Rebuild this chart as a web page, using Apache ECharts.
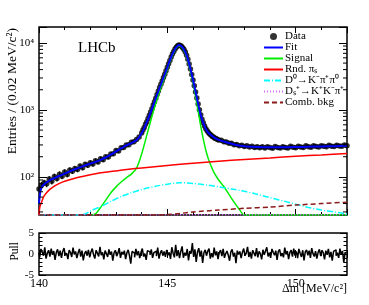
<!DOCTYPE html>
<html><head><meta charset="utf-8">
<script src="https://cdn.jsdelivr.net/npm/echarts@6/dist/echarts.min.js"></script>
<style>html,body{margin:0;padding:0;background:#fff}#c{width:369px;height:305px}</style>
</head><body><div id="c"></div><script>
// ---------- data ----------
const dataPoints = [
[140.0,66],[140.1,75],[140.2,82],[140.3,79],[140.4,93],[140.5,86],[140.6,101],[140.7,95],[140.8,110],[140.9,102],
[141.0,118],[141.1,109],[141.2,127],[141.3,122],[141.4,133],[141.5,129],[141.6,145],[141.7,137],[141.8,155],[141.9,149],
[142.0,163],[142.1,156],[142.2,174],[142.3,167],[142.4,186],[142.5,181],[142.6,200],[142.7,198],[142.8,219],[142.9,221],
[143.0,247],[143.1,244],[143.2,272],[143.3,276],[143.4,299],[143.5,302],[143.6,328],[143.7,334],[143.8,362],[143.9,395],
[144.00,452],[144.05,500],[144.10,548],[144.15,612],[144.20,668],[144.25,745],[144.30,830],[144.35,932],[144.40,1045],[144.45,1180],
[144.50,1320],[144.55,1500],[144.60,1700],[144.65,1920],[144.70,2170],[144.75,2420],[144.80,2710],[144.85,3060],[144.90,3420],[144.95,3850],
[145.00,4320],[145.05,4880],[145.10,5480],[145.15,6170],[145.20,6810],[145.25,7480],[145.30,8100],[145.35,8650],[145.40,9080],[145.45,9310],
[145.50,9190],[145.55,8910],[145.60,8480],[145.65,7950],[145.70,7310],[145.75,6530],[145.80,5690],[145.85,4870],[145.90,4090],[145.95,3390],
[146.00,2790],[146.05,2300],[146.10,1860],[146.15,1510],[146.20,1230],[146.25,1010],[146.30,845],[146.35,725],[146.40,642],[146.45,575],
[146.50,525],[146.55,488],[146.60,462],[146.65,437],[146.70,422],[146.75,401],[146.80,396],[146.85,379],[146.90,374],[146.95,362],
[147.0,357],[147.1,352],[147.2,335],[147.3,332],[147.4,317],[147.5,318],[147.6,302],[147.7,306],[147.8,291],[147.9,297],
[148.0,285],[148.1,291],[148.2,279],[148.3,286],[148.4,275],[148.5,283],[148.6,272],[148.7,282],[148.8,270],[148.9,281],
[149.0,274],[149.1,268],[149.2,284],[149.3,276],[149.4,271],[149.5,283],[149.6,275],[149.7,270],[149.8,286],[149.9,278],
[150.0,273],[150.1,288],[150.2,280],[150.3,275],[150.4,291],[150.5,282],[150.6,277],[150.7,293],[150.8,284],[150.9,279],
[151.0,292],[151.1,286],[151.2,281],[151.3,296],[151.4,287],[151.5,284],[151.6,298],[151.7,289],[151.8,286],[151.9,300],[152.0,292]
];
const fitCurve = [
[140.0,40],[140.05,60],[140.1,70],[140.2,78],[140.4,88],[140.6,96],[140.8,104],[141.0,112],[141.2,121],[141.4,130],
[141.6,139],[141.8,148],[142.0,158],[142.2,168],[142.4,180],[142.6,195],[142.8,215],[143.0,240],[143.2,266],[143.4,295],
[143.6,320],[143.8,355],[144.0,450],[144.2,660],[144.4,1040],[144.6,1690],[144.8,2700],[145.0,4300],[145.1,5500],[145.2,6800],
[145.3,8100],[145.4,9100],[145.45,9300],[145.5,9200],[145.6,8500],[145.7,7300],[145.8,5700],[145.9,4100],[146.0,2800],[146.1,1850],
[146.2,1220],[146.3,840],[146.4,640],[146.5,520],[146.6,457],[146.8,393],[147.0,358],[147.2,338],[147.4,320],[147.6,305],
[147.8,295],[148.0,288],[148.5,280],[149.0,277],[149.5,277],[150.0,279],[150.5,282],[151.0,285],[151.5,288],[152.0,291]
];
const signalCurve = [
[142.0,27],[142.2,28],[142.4,35],[142.6,45],[142.8,58],[143.0,71],[143.2,84],[143.4,97],[143.6,110],[143.8,135],
[144.0,220],[144.2,420],[144.4,800],[144.6,1450],[144.8,2450],[145.0,4050],[145.1,5250],[145.2,6550],[145.3,7850],[145.4,8850],
[145.45,9050],[145.5,8950],[145.6,8250],[145.7,7050],[145.8,5450],[145.9,3850],[146.0,2550],[146.1,1600],[146.2,960],[146.3,580],
[146.4,370],[146.5,250],[146.6,185],[146.8,120],[147.0,90],[147.2,72],[147.4,55],[147.6,42],[147.8,33],[148.0,27],[152.0,27]
];
const rndPiCurve = [
[140.0,27],[140.03,35],[140.1,42],[140.2,52],[140.4,64],[140.6,73],[140.8,80],[141.0,86],[141.5,98],[142.0,108],
[142.5,116],[143.0,123],[143.5,130],[144.0,136],[145.0,148],[146.0,160],[147.0,172],[148.0,182],[149.0,192],[150.0,203],
[151.0,213],[152.0,224]
];
const d0Curve = [
[140.0,27],[141.6,27],[141.8,28],[142.0,31],[142.4,36],[142.8,43],[143.2,51],[143.6,58],[144.0,65],[144.5,72],
[145.0,78],[145.5,82],[146.0,80],[146.5,76],[147.0,71],[147.5,66],[148.0,61],[148.5,55],[149.0,49],[149.5,44],
[150.0,39],[150.5,35],[151.0,32],[151.5,30],[152.0,28]
];
const dsCurve = [
[140.0,27.3],[144.0,27.3],[148.0,27.3],[152.0,27.3]
];
const combCurve = [
[140.0,27],[144.6,27],[145.0,27.5],[145.5,28.5],[146.0,30],[147.0,32],[148.0,34],[149.0,35.5],[150.0,38],[151.0,40],[152.0,42]
];
const pullStart = 140.0, pullStep = 0.05;
const pullValues = [
0.3,-0.8,1.2,0.5,-0.4,1.6,-1.1,0.2,0.9,-0.6,1.3,-0.2,0.7,-1.4,0.4,1.1,-0.5,0.8,-0.9,0.6,
1.4,-0.3,0.2,-1.2,0.9,0.4,-0.7,1.5,-0.1,0.6,-1.0,0.3,1.2,-0.6,0.8,-1.5,0.1,0.7,-0.4,1.0,
-0.8,0.5,1.3,-0.2,-1.1,0.9,0.2,-0.6,1.7,-0.3,0.4,-1.3,0.8,0.1,-0.7,1.1,-0.2,0.6,-1.6,0.3,
0.9,-0.5,0.2,1.4,-0.9,0.5,-0.1,0.8,-1.2,0.3,1.0,-0.4,-2.3,0.6,0.2,-0.8,1.2,-0.3,0.7,-1.0,
0.4,1.3,-0.6,0.1,-1.4,0.8,0.5,-0.2,1.1,-0.9,0.3,0.7,-0.5,1.5,-1.1,0.2,0.9,-0.4,0.6,-0.7,
1.0,-0.3,0.4,-1.2,1.6,0.2,-0.8,2.2,-0.5,0.9,-1.0,0.6,1.8,-0.9,0.3,-0.4,1.2,-1.5,0.7,0.1,
2.6,-0.7,1.1,-1.9,0.5,1.4,-0.6,0.8,-2.1,0.3,1.0,-0.4,0.7,1.3,-1.1,0.2,-0.8,1.5,-0.3,0.6,
-1.2,0.4,0.9,-0.5,1.2,-0.9,0.1,0.7,-0.3,-1.6,0.5,1.1,-0.6,0.3,-2.2,0.8,-0.1,0.6,-1.0,0.4,
1.3,-0.4,0.2,1.7,-0.7,0.5,-1.1,0.9,0.2,-0.5,1.4,-0.8,0.6,0.1,-1.3,1.0,-0.2,0.7,1.6,-0.6,
0.3,-0.9,1.2,0.4,-0.3,0.8,-1.4,0.6,1.1,-0.5,0.2,-0.8,1.5,-0.1,0.7,-1.2,0.4,0.9,-0.6,1.3,
-0.4,0.6,-1.0,1.2,0.2,-0.7,0.9,-1.5,0.5,1.0,-0.3,0.8,-0.9,1.4,0.1,-0.6,0.7,-1.1,0.4,1.1,
-0.5,0.9,0.3,-1.3,0.8,-0.2,1.2,-0.8,0.5,-1.6,0.6,1.0,-0.4,0.3,-0.9,1.3,-0.2,0.7,-2.0,0.4,
0.2
];
const xTicks = [140, 145, 150];
const yLogLabels = [100, 1000, 10000];
const yLogMinor = [30,40,50,60,70,80,90,200,300,400,500,600,700,800,900,2000,3000,4000,5000,6000,7000,8000,9000];
const legendNames = ['Data','Fit','Signal','Rnd. πₛ','D⁰→K⁻π⁺π⁰','Dₛ⁺→K⁺K⁻π⁺','Comb. bkg'];

// ---------- chart ----------
const FONT = 'Liberation Serif';
const X_MIN = 140, X_MAX = 152, Y_MIN = 27, Y_MAX = 17300;
const sup = {2:'²',3:'³',4:'⁴'};
const pullData = pullValues.map((v,i)=>[+(pullStart + i*pullStep).toFixed(2), v]);

const chart = echarts.init(document.getElementById('c'), null, {renderer:'canvas'});
const tickStyle = {color:'#000', width:1};
function xAx(grid, pos, showLabel, major, minor){
  return {gridIndex:grid, type:'value', position:pos, min:X_MIN, max:X_MAX, interval:5,
    axisLine:{show:false}, splitLine:{show:false},
    axisTick:{show:true, inside:true, length:major, lineStyle:tickStyle},
    minorTick:{show:true, splitNumber:5, length:minor, lineStyle:tickStyle},
    axisLabel:{show:showLabel, color:'#000', fontFamily:FONT, fontSize:12, margin:3,
      formatter: v => xTicks.includes(v) ? String(v) : ''}};
}
function yLog(pos, showLabel){
  return {gridIndex:0, type:'log', logBase:10, position:pos, min:Y_MIN, max:Y_MAX,
    axisLine:{show:false}, splitLine:{show:false},
    axisTick:{show:true, inside:true, length:8, lineStyle:tickStyle},
    axisLabel:{show:showLabel, color:'#000', fontFamily:FONT, fontSize:11, margin:5,
      formatter: v => { const e = Math.round(Math.log10(v)); return yLogLabels.some(t=>Math.abs(t-v)<1e-6*t) ? '10'+sup[e] : ''; }}};
}
function yPull(pos, showLabel){
  return {gridIndex:1, type:'value', position:pos, min:-5, max:5, interval:5,
    axisLine:{show:false}, splitLine:{show:false},
    axisTick:{show:true, inside:true, length:7, lineStyle:tickStyle},
    minorTick:{show:true, splitNumber:5, length:3.5, lineStyle:tickStyle},
    axisLabel:{show:showLabel, color:'#000', fontFamily:FONT, fontSize:11, margin:5}};
}
function curve(name, data, color, width, type, z){
  return {name, type:'line', xAxisIndex:0, yAxisIndex:0, data, symbol:'none', smooth:0.25,
    lineStyle:{color, width, type}, itemStyle:{color}, clip:true, z, animation:false};
}

const option = {
  animation:false,
  grid:[
    {left:39, top:27, width:308, height:188, show:true, borderColor:'#000', borderWidth:1.5, backgroundColor:'transparent'},
    {left:39, top:233, width:308, height:42, show:true, borderColor:'#000', borderWidth:1.5, backgroundColor:'transparent'}
  ],
  xAxis:[ xAx(0,'bottom',false,6,3), xAx(0,'top',false,6,3), xAx(1,'bottom',true,4,2), xAx(1,'top',false,4,2) ],
  yAxis:[ yLog('left',true), yLog('right',false), yPull('left',true), yPull('right',false) ],
  legend:{
    data: legendNames.map((n,i)=> i===0 ? {name:n, icon:'circle', itemStyle:{color:'#000'}} : {name:n, itemStyle:{opacity:0}}),
    orient:'vertical', left:263, top:31, padding:0, itemWidth:19, itemHeight:7, itemGap:0,
    textStyle:{fontFamily:FONT, fontSize:11, color:'#000', lineHeight:10, padding:[0,0,0,-3]},
    selectedMode:false
  },
  graphic:[
    {type:'text', left:78, top:41, style:{text:'LHCb', fontFamily:FONT, fontSize:15, fill:'#000'}},
    {type:'text', x:12, y:28, rotation:Math.PI/2, style:{text:'Entries / (0.02 MeV/c²)', fontFamily:FONT, fontSize:13.5, fill:'#000', align:'right', verticalAlign:'middle'}},
    {type:'text', x:15, y:242, rotation:Math.PI/2, style:{text:'Pull', fontFamily:FONT, fontSize:11.5, fill:'#000', align:'right', verticalAlign:'middle'}},
    {type:'text', x:347, y:289, style:{text:'Δm [MeV/c²]', fontFamily:FONT, fontSize:12, fill:'#000', align:'right', verticalAlign:'middle'}}
  ],
  series:[
    {name:'Data', type:'scatter', xAxisIndex:0, yAxisIndex:0, data:dataPoints, symbol:'circle', symbolSize:5.5,
      itemStyle:{color:'#000'}, z:2, clip:true},
    {type:'custom', xAxisIndex:0, yAxisIndex:0, data:dataPoints, z:2, clip:true, silent:true,
      renderItem:(p, api)=>{ const x=api.value(0), v=api.value(1), e=Math.sqrt(v);
        const a=api.coord([x, v-e]), b=api.coord([x, v+e]);
        return {type:'line', shape:{x1:a[0],y1:a[1],x2:b[0],y2:b[1]}, style:{stroke:'#000', lineWidth:1.2}}; }},
    curve('Fit', fitCurve, '#0000ff', 2, 'solid', 5),
    curve('Signal', signalCurve, '#00ee00', 1.5, 'solid', 4),
    curve('Rnd. πₛ', rndPiCurve, '#ff0000', 1.5, 'solid', 4),
    curve('D⁰→K⁻π⁺π⁰', d0Curve, '#00ffff', 1.5, [6,2,1,2], 4),
    curve('Dₛ⁺→K⁺K⁻π⁺', dsCurve, '#dd66ff', 1.5, [1,2], 4),
    curve('Comb. bkg', combCurve, '#8b1a1a', 1.5, [5,3], 4),
    {type:'custom', xAxisIndex:0, yAxisIndex:0, data:yLogMinor.map(v=>[X_MIN, v]), clip:false, silent:true, z:6,
      renderItem:(p, api)=>{ const v=api.value(1); const a=api.coord([X_MIN, v]), b=api.coord([X_MAX, v]);
        return {type:'group', children:[
          {type:'line', shape:{x1:a[0],y1:a[1],x2:a[0]+4,y2:a[1]}, style:{stroke:'#000', lineWidth:1}},
          {type:'line', shape:{x1:b[0],y1:b[1],x2:b[0]-4,y2:b[1]}, style:{stroke:'#000', lineWidth:1}}]}; }},
    {name:'Pull', type:'line', xAxisIndex:2, yAxisIndex:2, data:pullData, step:'middle', symbol:'none',
      lineStyle:{color:'#000', width:1.5}, clip:true}
  ]
};
chart.setOption(option);
</script></body></html>
